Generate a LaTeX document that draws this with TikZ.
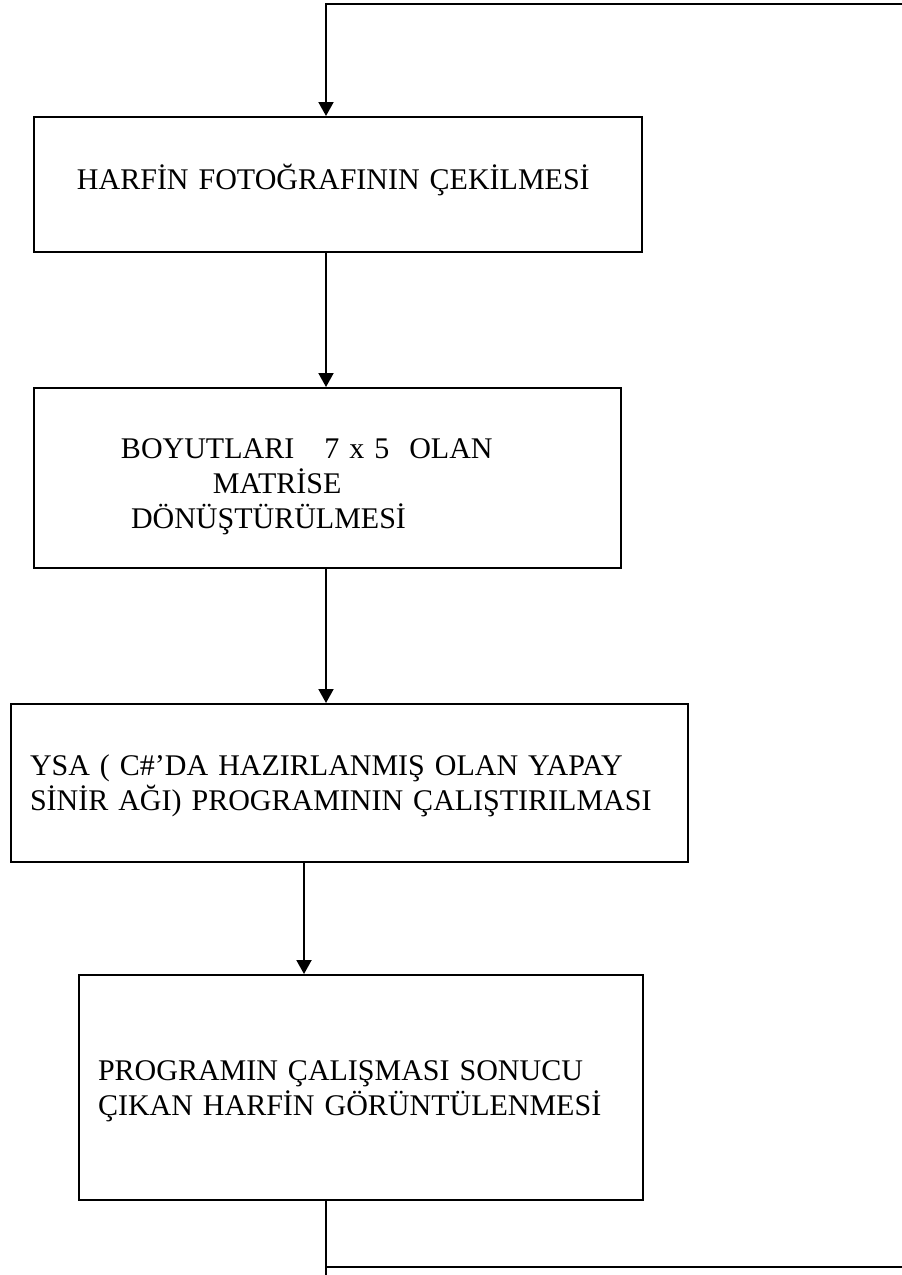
\documentclass[tikz,border=0pt]{standalone}
\usepackage{fontspec}
\setmainfont{Liberation Serif}
\usetikzlibrary{arrows.meta}
\tikzset{
  stepbox/.style={draw, line width=2pt, inner sep=0pt, anchor=north west,
    align=left, font=\fontsize{30}{35}\selectfont, text height=20pt},
  flow/.style={line width=2pt},
  flowarr/.style={line width=2pt, -{Triangle[length=14pt,width=15pt]}}
}
\begin{document}
\begin{tikzpicture}[x=1pt,y=-1pt]
\useasboundingbox (0,0) rectangle (902,1275);

% process steps
\node[stepbox, text width=608pt, minimum height=135pt, text depth=11pt] (b1) at (33,116)
  {\mbox{\hspace*{43pt}HARFİN FOTOĞRAFININ ÇEKİLMESİ}};
\node[stepbox, text width=587pt, minimum height=180pt, text height=31pt, text depth=70pt] (b2) at (33,387)
  {\mbox{\hspace*{87pt}BOYUTLARI\ \ \ 7 x 5\ \ OLAN}\\
   \mbox{\hspace*{179pt}MATRİSE}\\
   \mbox{\hspace*{97pt}DÖNÜŞTÜRÜLMESİ}};
\node[stepbox, text width=677pt, minimum height=158pt, text depth=35pt] (b3) at (10,703)
  {\mbox{\hspace*{19pt}YSA ( C\#’DA HAZIRLANMIŞ OLAN YAPAY}\\
   \mbox{\hspace*{19pt}SİNİR AĞI) PROGRAMININ ÇALIŞTIRILMASI}};
\node[stepbox, text width=564pt, minimum height=225pt, text depth=35pt] (b4) at (78,974)
  {\mbox{\hspace*{19pt}PROGRAMIN ÇALIŞMASI SONUCU}\\
   \mbox{\hspace*{19pt}ÇIKAN HARFİN GÖRÜNTÜLENMESİ}};

% loop-back line positions
\coordinate (topL) at (326,4);
\coordinate (topR) at (902,4);
\coordinate (mid) at (304,0);
\coordinate (botEnd) at (326,1275);
\coordinate (botL) at (326,1267);
\coordinate (botR) at (902,1267);

% connectors
\draw[flowarr] (topR) -- (topL) -- (topL |- b1.north);
\draw[flowarr] (topL |- b1.south) -- (topL |- b2.north);
\draw[flowarr] (topL |- b2.south) -- (topL |- b3.north);
\draw[flowarr] (mid |- b3.south) -- (mid |- b4.north);
\draw[flow] (topL |- b4.south) -- (botEnd);
\draw[flow] (botL) -- (botR);
\end{tikzpicture}
\end{document}
